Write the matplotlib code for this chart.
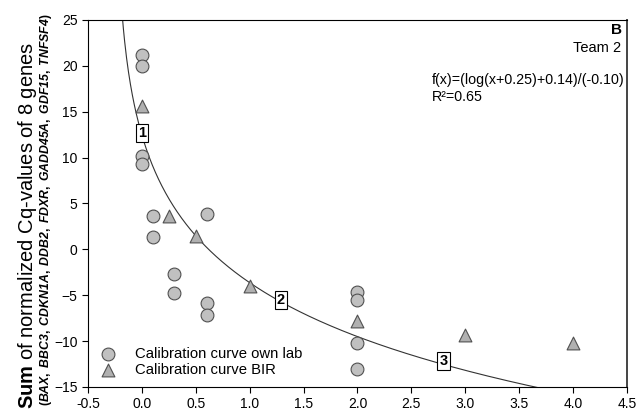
import numpy as np
import matplotlib.pyplot as plt

plt.rcParams['font.family'] = ['Liberation Sans', 'DejaVu Sans']
plt.rcParams['mathtext.fontset'] = 'custom'
plt.rcParams['mathtext.rm'] = 'Liberation Sans'
plt.rcParams['mathtext.bf'] = 'Liberation Sans:bold'
plt.rcParams['mathtext.it'] = 'Liberation Sans:italic'
plt.rcParams['mathtext.bfit'] = 'Liberation Sans:italic:bold'

# Calibration curve own lab (circles)
own_x = [0, 0, 0, 0, 0.1, 0.1, 0.3, 0.3, 0.6, 0.6, 0.6, 2.0, 2.0, 2.0, 2.0]
own_y = [21.2, 20.0, 10.2, 9.3, 3.6, 1.3, -2.7, -4.8, 3.9, -5.8, -7.1, -4.7, -5.5, -10.2, -13.0]

# Calibration curve BIR (triangles)
bir_x = [0, 0.25, 0.5, 1.0, 2.0, 3.0, 4.0]
bir_y = [15.6, 3.6, 1.5, -4.0, -7.8, -9.3, -10.2]

# numbered samples on the curve
sample_labels = ['1', '2', '3']
sample_x = [0.0, 1.29, 2.80]
sample_y = [12.7, -5.5, -12.2]

# fitted curve f(x)=(log(x+0.25)+0.14)/(-0.10)
fit_a, fit_b, fit_c = 0.25, 0.14, -0.10

fig = plt.figure(figsize=(6.44, 4.19), dpi=100)
ax = fig.add_axes([0.1366, 0.0764, 0.8370, 0.8759])

xs = np.linspace(-0.249, 4.5, 800)
ys = (np.log(xs + fit_a) + fit_b) / fit_c
ax.plot(xs, ys, color='#333333', lw=0.8, zorder=2)

ax.scatter(own_x, own_y, s=85, marker='o', facecolor='#c0c0c0', edgecolor='#505050',
           linewidth=0.8, zorder=3, label='Calibration curve own lab')
ax.scatter(bir_x, bir_y, s=85, marker='^', facecolor='#b0b0b0', edgecolor='#505050',
           linewidth=0.8, zorder=3, label='Calibration curve BIR')

for lab, sx, sy in zip(sample_labels, sample_x, sample_y):
    ax.text(sx, sy, lab, ha='center', va='center', fontsize=10.5, fontweight='bold', zorder=4,
            bbox=dict(boxstyle='square,pad=0.15', facecolor='white', edgecolor='black', linewidth=0.8))

ax.set_xlim(-0.5, 4.5)
ax.set_ylim(-15, 25)
ax.set_xticks(np.arange(-0.5, 4.51, 0.5))
ax.set_xticklabels([f'{v:.1f}' for v in np.arange(-0.5, 4.51, 0.5)])
ax.set_yticks(np.arange(-15, 26, 5))
ax.tick_params(direction='out', length=4, width=0.8, labelsize=10, colors='black')
ax.spines['right'].set_linewidth(1.4)
ax.spines['right'].set_color('#444444')
for s in ['left', 'bottom', 'top']:
    ax.spines[s].set_linewidth(0.8)

ax.text(0.99, 0.973, 'B', transform=ax.transAxes, ha='right', va='center', fontsize=11, fontweight='bold')
ax.text(0.99, 0.924, 'Team 2', transform=ax.transAxes, ha='right', va='center', fontsize=10.5)
ax.text(0.638, 0.837, 'f(x)=(log(x+0.25)+0.14)/(-0.10)', transform=ax.transAxes,
        ha='left', va='center', fontsize=10.3)
ax.text(0.638, 0.790, 'R²=0.65', transform=ax.transAxes, ha='left', va='center', fontsize=10.3)

ax.legend(loc='lower left', frameon=False, fontsize=10.7, handletextpad=0.8,
          borderaxespad=0.3, labelspacing=0.1, bbox_to_anchor=(-0.01, 0.0))

fig.text(0.043, 0.463, r'$\mathbf{Sum}$ of normalized Cq-values of 8 genes', rotation=90,
         ha='center', va='center', fontsize=14.5)
genes = ['BAX', 'BBC3', 'CDKN1A', 'DDB2', 'FDXR', 'GADD45A', 'GDF15', 'TNFSF4']
line2 = r'$\mathbf{(}' + r'\mathbf{,\ }'.join(r'\mathbfit{' + g + '}' for g in genes) + r'\mathbf{)}$'
fig.text(0.072, 0.499, line2, rotation=90, ha='center', va='center', fontsize=8.8)

fig.savefig('out.png', dpi=100)
